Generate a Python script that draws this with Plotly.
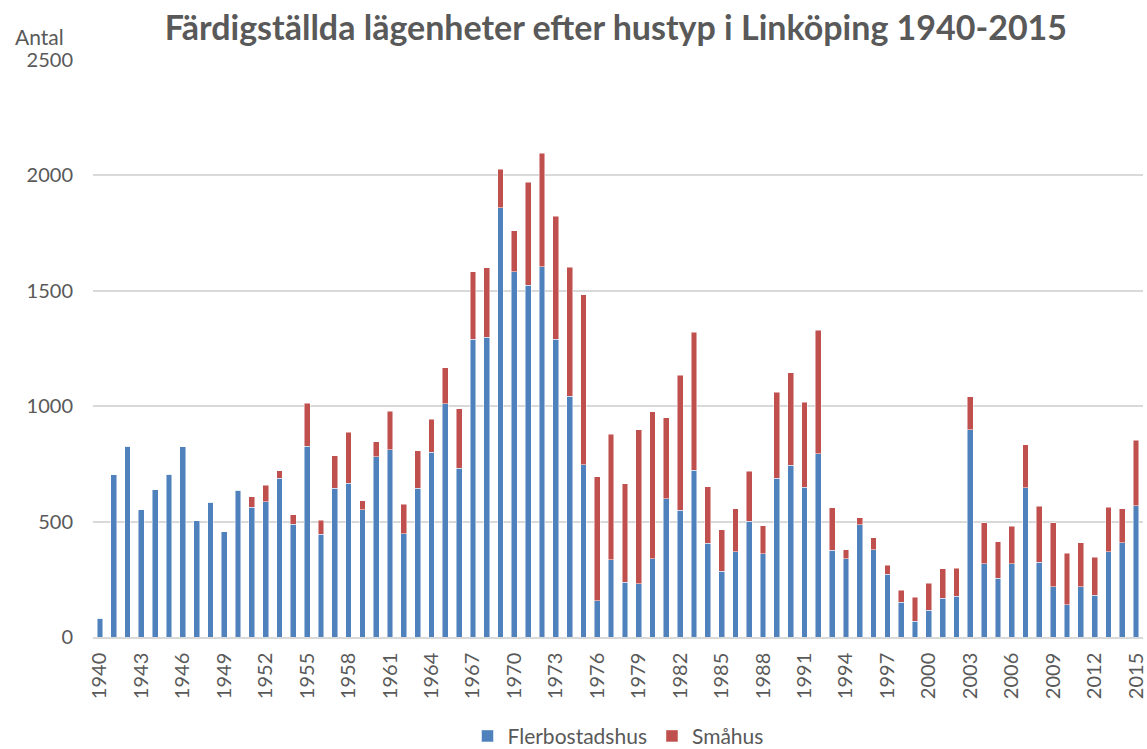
import plotly.graph_objects as go

years = list(range(1940, 2016))

flerbostadshus = [
    82, 702, 827, 551, 637, 705, 824, 503, 584, 455,
    636, 562, 587, 688, 488, 827, 445, 645, 666, 551,
    782, 811, 447, 645, 801, 1010, 731, 1290, 1299, 1860,
    1582, 1525, 1604, 1290, 1043, 747, 158, 334, 238, 231,
    339, 598, 549, 723, 406, 285, 369, 501, 360, 687,
    744, 648, 795, 375, 339, 487, 378, 272, 150, 68,
    115, 167, 177, 899, 318, 254, 318, 647, 324, 218,
    140, 218, 180, 370, 409, 569,
]

totals = [
    82, 702, 827, 551, 637, 705, 824, 503, 584, 455,
    636, 607, 658, 721, 529, 1013, 506, 785, 887, 590,
    845, 978, 575, 806, 944, 1166, 990, 1582, 1600, 2027,
    1760, 1971, 2097, 1822, 1603, 1483, 695, 878, 665, 899,
    977, 950, 1135, 1320, 651, 464, 555, 718, 483, 1061,
    1144, 1017, 1330, 561, 379, 516, 431, 310, 202, 173,
    232, 295, 297, 1040, 496, 412, 480, 833, 566, 494,
    363, 408, 346, 563, 555, 852,
]

smahus = [t - f for t, f in zip(totals, flerbostadshus)]

tick_years = list(range(1940, 2016, 3))
tick_text = [str(y) for y in tick_years]

FONT = "Lato"
GREY = "#595959"

fig = go.Figure()
fig.add_trace(go.Bar(
    x=years, y=flerbostadshus, name="Flerbostadshus",
    marker=dict(color="#4F81BD", line=dict(color="rgba(255,255,255,0.6)", width=0.8)),
))
fig.add_trace(go.Bar(
    x=years, y=smahus, name="Småhus",
    marker=dict(color="#C0504D", line=dict(color="rgba(255,255,255,0.6)", width=0.8)),
))

fig.update_layout(
    barmode="stack",
    bargap=0.58,
    width=1147, height=749,
    paper_bgcolor="white", plot_bgcolor="white",
    margin=dict(l=93, r=4, t=60, b=112, autoexpand=False),
    title=dict(
        text="<b>Färdigställda lägenheter efter hustyp i Linköping 1940-2015</b>",
        x=0.537, xanchor="center", y=0.962, yanchor="middle",
        font=dict(family=FONT, size=34, color=GREY),
    ),
    font=dict(family=FONT, color=GREY, size=20),
    showlegend=True,
    legend=dict(
        orientation="h", x=0.5, xanchor="center", y=-0.172, yanchor="middle",
        font=dict(family=FONT, size=21, color=GREY),
        traceorder="normal", itemwidth=30,
    ),
    xaxis=dict(
        range=[1939.5, 2015.5],
        tickmode="array", tickvals=tick_years, ticktext=tick_text,
        tickangle=-90, tickfont=dict(size=20, color=GREY),
        ticklabeloverflow="allow",
        showgrid=False, showline=True, linecolor="#d9d9d9", linewidth=1.5,
        ticks="outside", ticklen=6, tickcolor="rgba(0,0,0,0)",
        zeroline=False, automargin=False,
    ),
    yaxis=dict(
        range=[0, 2500], tickvals=[0, 500, 1000, 1500, 2000, 2500],
        tickfont=dict(size=20, color=GREY),
        showgrid=True, gridcolor="#d9d9d9", gridwidth=1.5,
        zeroline=False, ticks="outside", ticklen=15, tickcolor="rgba(0,0,0,0)",
        showline=False, automargin=False,
    ),
    annotations=[dict(
        text="Antal", xref="paper", yref="paper",
        x=-0.026, y=1.0, xanchor="right", yanchor="bottom", yshift=9,
        showarrow=False, font=dict(family=FONT, size=21, color=GREY),
    )],
)

fig.write_html(
    "out.html",
    config={"displayModeBar": False},
    post_script="document.body.style.margin='0';document.body.style.overflow='hidden';",
)
